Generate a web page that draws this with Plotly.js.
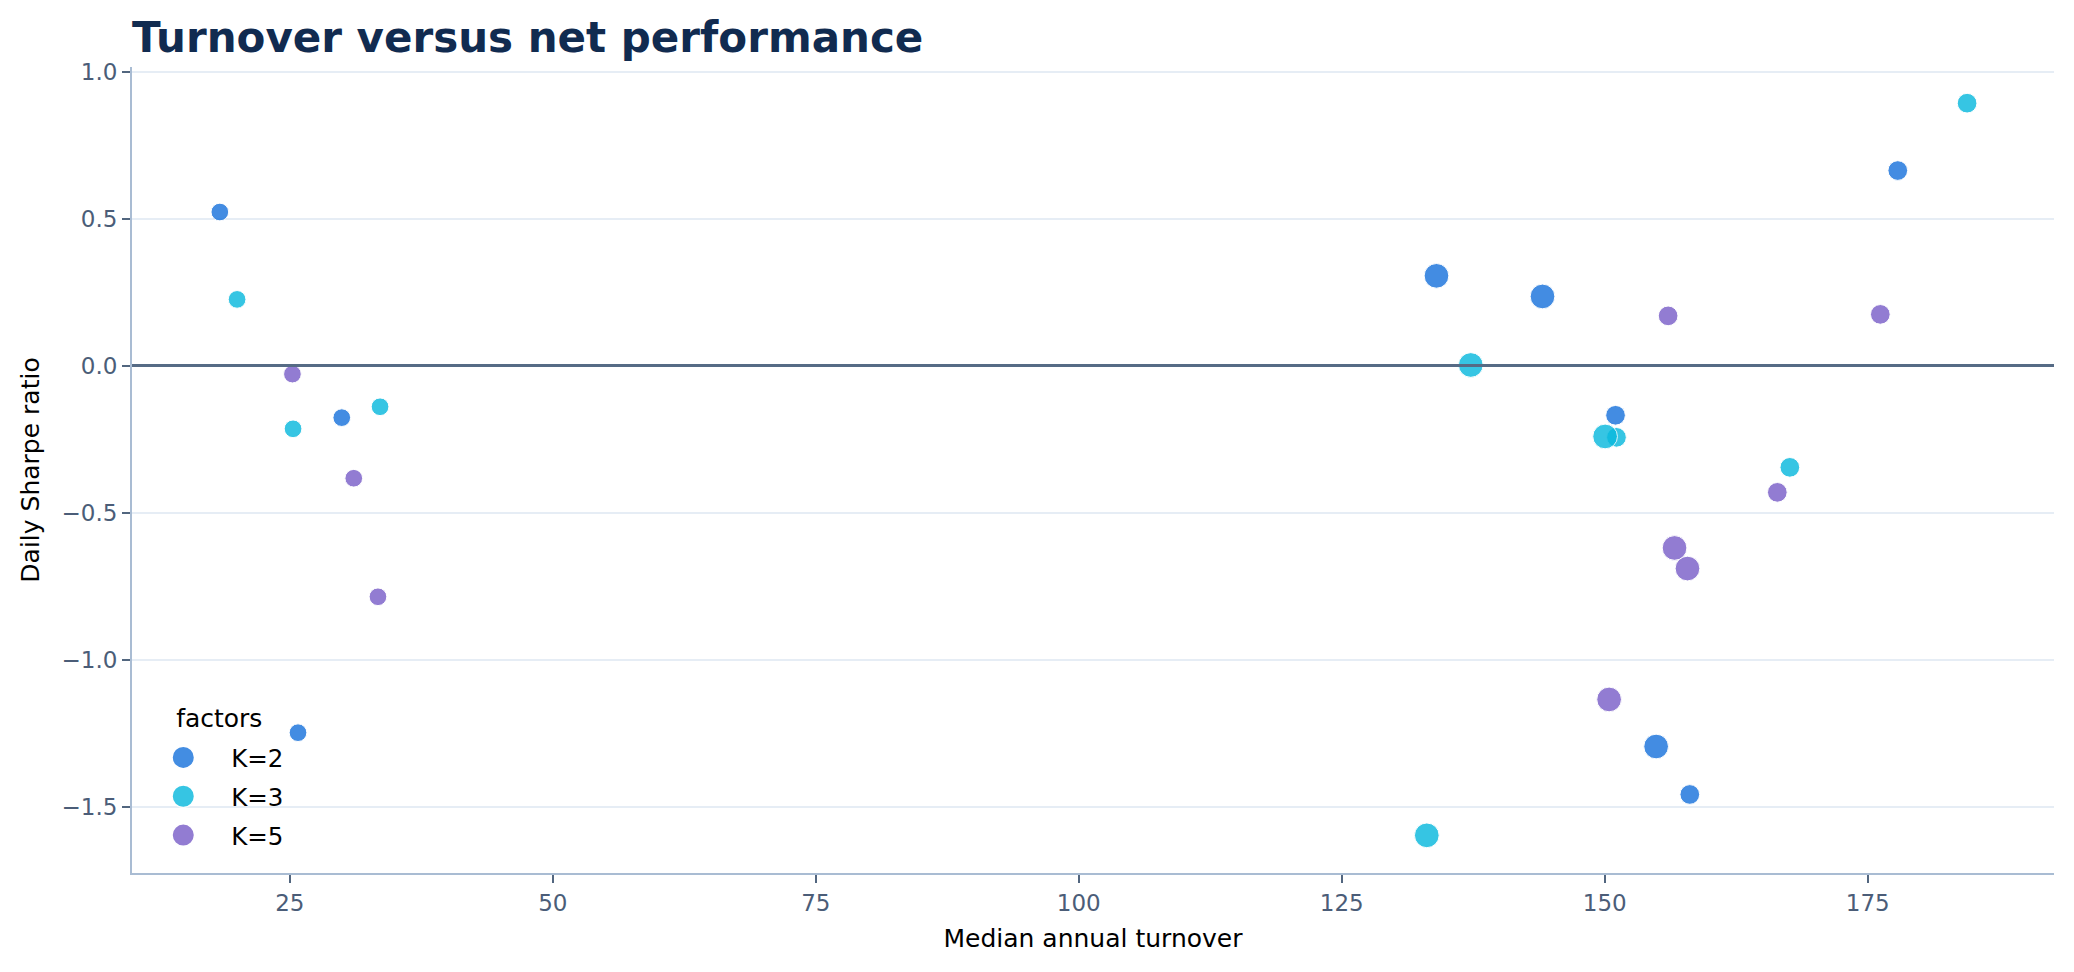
<!DOCTYPE html>
<html>
<head>
<meta charset="utf-8">
<script src="https://cdn.plot.ly/plotly-3.0.1.min.js"></script>
<style>
  html, body { margin: 0; padding: 0; background: #ffffff; }
  #chart { width: 2074px; height: 972px; }
</style>
</head>
<body>
<div id="chart"></div>
<script>

// values
const factors = ["K=2", "K=3", "K=5"];

const turnoverK2 = [18.35, 29.94, 25.78, 134.0, 144.08, 151.02, 154.88, 158.08, 177.85];
const sharpeK2   = [0.523, -0.176, -1.247, 0.306, 0.236, -0.168, -1.294, -1.457, 0.664];
const levelK2    = [0, 0, 0, 2, 2, 1, 2, 1, 1];

const turnoverK3 = [19.99, 25.31, 33.58, 137.26, 151.11, 150.03, 167.59, 184.44, 133.08];
const sharpeK3   = [0.226, -0.214, -0.139, 0.003, -0.243, -0.240, -0.345, 0.893, -1.596];
const levelK3    = [0, 0, 0, 2, 1, 2, 1, 1, 2];

const turnoverK5 = [25.25, 31.08, 33.38, 156.02, 157.86, 156.63, 166.40, 176.19, 150.41];
const sharpeK5   = [-0.028, -0.382, -0.785, 0.170, -0.689, -0.619, -0.430, 0.175, -1.134];
const levelK5    = [0, 0, 0, 1, 2, 2, 1, 1, 2];

const xTicks = [25, 50, 75, 100, 125, 150, 175];
const yTicks = [-1.5, -1.0, -0.5, 0.0, 0.5, 1.0];


window.addEventListener("DOMContentLoaded", init);


function init() {
    let data = dataset();
    Plotly.newPlot('chart', data, chartLayout(), {staticPlot: true}).then(tidyLegend);
}


function makeTrace(name, x, y, level, color) {
    const sizeByLevel = [17.7, 19.7, 24.7];
    return {
        type: 'scatter',
        mode: 'markers',
        name: name,
        legendgroup: name,
        x: x,
        y: y,
        marker: {
            color: color,
            size: level.map(l => sizeByLevel[l]),
            opacity: 0.82,
            line: {color: '#ffffff', width: 1}
        }
    };
}


function dataset() {
    return [
        makeTrace(factors[0], turnoverK2, sharpeK2, levelK2, '#1a74dc'),
        makeTrace(factors[1], turnoverK3, sharpeK3, levelK3, '#0ab9dd'),
        makeTrace(factors[2], turnoverK5, sharpeK5, levelK5, '#7b60c9')
    ];
}


function chartLayout() {
    const tickFont = {family: 'DejaVu Sans', size: 23, color: '#4b5d78'};
    const labelFont = {family: 'DejaVu Sans', size: 25, color: '#000000'};
    return {
        width: 2074,
        height: 972,
        margin: {l: 132, r: 20, t: 67, b: 98.5},
        paper_bgcolor: '#ffffff',
        plot_bgcolor: '#ffffff',
        font: {family: 'DejaVu Sans'},
        title: {
            text: 'Turnover versus net performance',
            font: {family: 'DejaVu Sans', size: 42, weight: 700, color: '#112b50'},
            x: 0, xref: 'paper', xanchor: 'left',
            y: 1 - 51.7 / 972, yref: 'container', yanchor: 'bottom'
        },
        xaxis: {
            range: [10.0, 192.7],
            tickvals: xTicks,
            ticks: 'outside', ticklen: 8, tickwidth: 2, tickcolor: '#52667f',
            tickfont: tickFont,
            showline: true, linecolor: '#a9bcd3', linewidth: 2,
            showgrid: false, zeroline: false,
            title: {text: 'Median annual turnover', font: labelFont, standoff: 15}
        },
        yaxis: {
            range: [-1.724, 1.016],
            tickvals: yTicks,
            tickformat: '.1f',
            ticks: 'outside', ticklen: 8, tickwidth: 2, tickcolor: '#52667f',
            tickfont: tickFont,
            showline: true, linecolor: '#a9bcd3', linewidth: 2,
            showgrid: true, gridcolor: '#e6edf5', gridwidth: 2,
            zeroline: true, zerolinecolor: '#566b85', zerolinewidth: 3,
            zerolinelayer: 'above traces',
            title: {text: 'Daily Sharpe ratio', font: labelFont, standoff: 15}
        },
        legend: {
            title: {text: 'factors', font: {family: 'DejaVu Sans', size: 25, color: '#000000'}, side: 'top center'},
            font: {family: 'DejaVu Sans', size: 24.5, color: '#000000'},
            x: 0.0017, xanchor: 'left',
            y: 0.018, yanchor: 'bottom',
            bgcolor: 'rgba(0,0,0,0)',
            itemwidth: 86,
            tracegroupgap: 4
        },
        showlegend: true
    };
}


// plotly caps legend symbols at 16px and packs the title tight,
// the reference uses bigger symbols and a bit more room under the title
function tidyLegend() {
    document.querySelectorAll('.legend .legendpoints path').forEach(p => {
        let t = p.getAttribute('transform') || '';
        p.setAttribute('transform', t + ' scale(1.4)');
    });
    document.querySelectorAll('.legend .legendtitletext').forEach(el => {
        let x = parseFloat(el.getAttribute('x') || 0);
        let y = parseFloat(el.getAttribute('y') || 0);
        el.setAttribute('x', x + 7);
        el.setAttribute('y', y - 8);
    });
}

</script>
</body>
</html>
